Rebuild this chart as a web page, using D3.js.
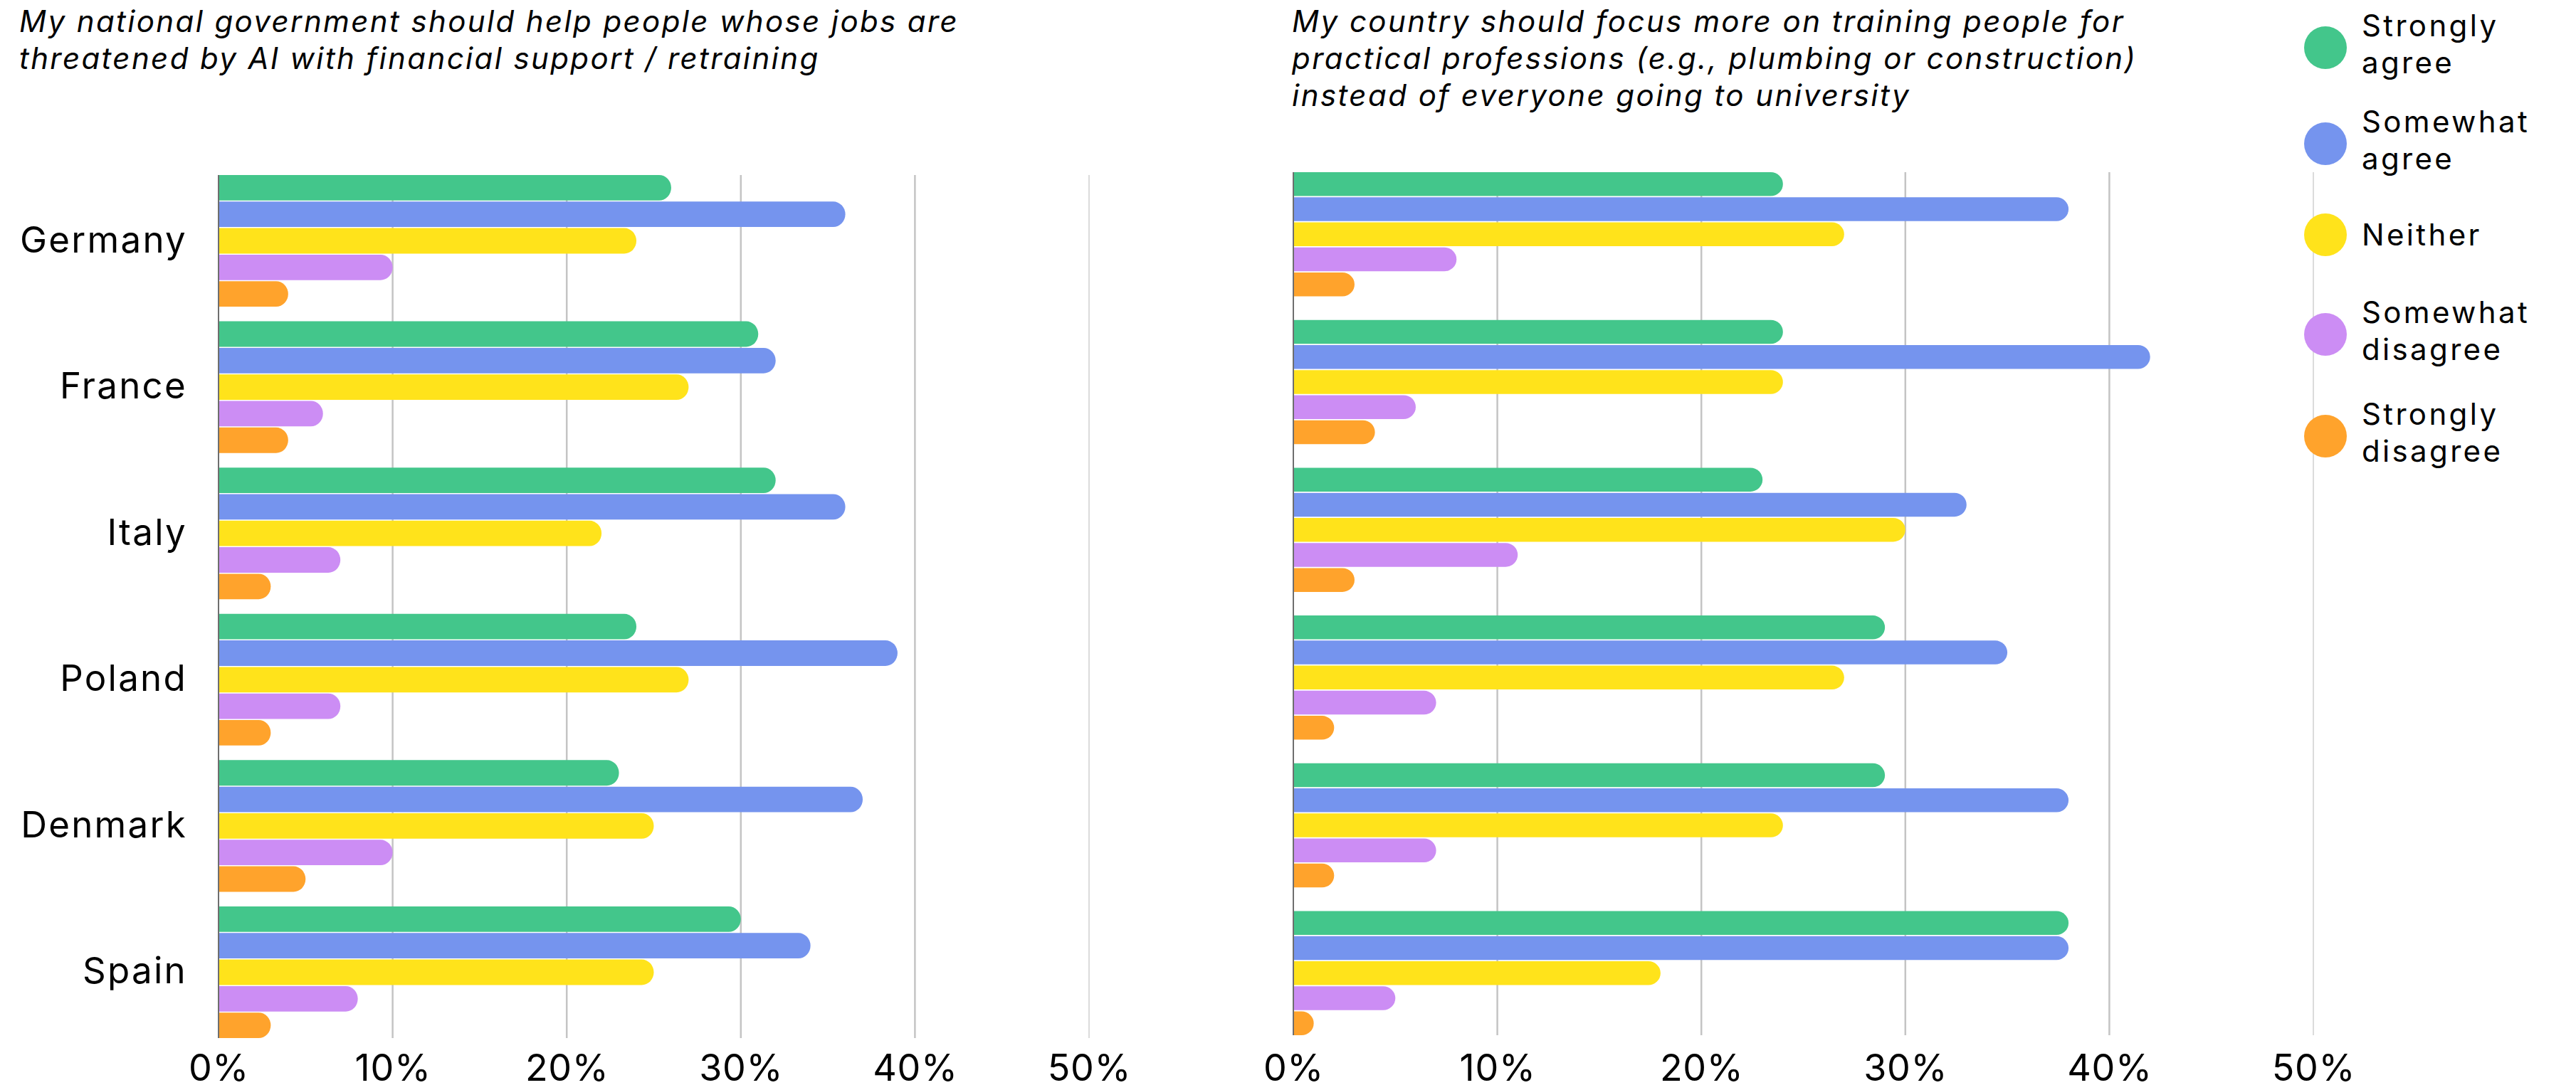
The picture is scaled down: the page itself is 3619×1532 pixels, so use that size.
<!DOCTYPE html>
<html>
<head>
<meta charset="utf-8">
<script src="https://cdn.jsdelivr.net/npm/d3@7/dist/d3.min.js"></script>
<style>
  html, body { margin: 0; padding: 0; background: #ffffff; }
  svg { display: block; }
  text { font-family: Inter, "Noto Sans", sans-serif; fill: #000; }
</style>
</head>
<body>
<svg id="chart" width="3619" height="1532"></svg>
<script>
// ---------------- DATA ----------------
const countries = ["Germany", "France", "Italy", "Poland", "Denmark", "Spain"];
const responses = ["Strongly agree", "Somewhat agree", "Neither", "Somewhat disagree", "Strongly disagree"];
const responseLines = [["Strongly", "agree"], ["Somewhat", "agree"], ["Neither"], ["Somewhat", "disagree"], ["Strongly", "disagree"]];
const colors = ["#43C68B", "#7594EE", "#FFE31B", "#CC8DF4", "#FFA32C"];
const tickValues = [0, 10, 20, 30, 40, 50];
const tickLabels = ["0%", "10%", "20%", "30%", "40%", "50%"];

const titleLeft = ["My national government should help people whose jobs are", "threatened by AI with financial support / retraining"];
const titleRight = ["My country should focus more on training people for", "practical professions (e.g., plumbing or construction)", "instead of everyone going to university"];

// Chart 1: government support (% per country, in countries order)
const govStronglyAgree    = [26, 31, 32, 24, 23, 30];
const govSomewhatAgree    = [36, 32, 36, 39, 37, 34];
const govNeither          = [24, 27, 22, 27, 25, 25];
const govSomewhatDisagree = [10, 6, 7, 7, 10, 8];
const govStronglyDisagree = [4, 4, 3, 3, 5, 3];

// Chart 2: practical professions training
const pracStronglyAgree    = [24, 24, 23, 29, 29, 38];
const pracSomewhatAgree    = [38, 42, 33, 35, 38, 38];
const pracNeither          = [27, 24, 30, 27, 24, 18];
const pracSomewhatDisagree = [8, 6, 11, 7, 7, 5];
const pracStronglyDisagree = [3, 4, 3, 2, 2, 1];

const govSeries  = [govStronglyAgree, govSomewhatAgree, govNeither, govSomewhatDisagree, govStronglyDisagree];
const pracSeries = [pracStronglyAgree, pracSomewhatAgree, pracNeither, pracSomewhatDisagree, pracStronglyDisagree];

// ---------------- DRAW ----------------
const svg = d3.select("#chart");

// letter-spacing so that a sample string reaches the reference's rendered width
function fitSpacing(sample, targetWidth, fontSize, italic) {
  const t = svg.append("text").style("font-size", fontSize + "px")
    .style("font-style", italic ? "italic" : "normal").text(sample);
  const w = t.node().getComputedTextLength();
  t.remove();
  return ((targetWidth - w) / sample.length) + "px";
}
const titleLeftLS  = fitSpacing(titleLeft[0], 1320, 42, true);
const titleRightLS = fitSpacing(titleRight[0], 1170, 42, true);
const labelLS  = fitSpacing("Germany", 235, 51, false);
const legendLS = fitSpacing("Somewhat", 236, 42, false);
const axisLS   = fitSpacing("10%", 107, 52, false);

function barPath(x0, x1, y, h) {
  const w = x1 - x0;
  const rx = Math.min(17, w);
  const ry = h / 2;
  return `M${x0},${y}H${x1 - rx}A${rx},${ry} 0 0 1 ${x1},${y + ry}A${rx},${ry} 0 0 1 ${x1 - rx},${y + h}H${x0}Z`;
}

function drawPanel(cfg) {
  const g = svg.append("g");
  const x = d3.scaleLinear().domain([0, 50]).range([cfg.x0, cfg.x1]);
  const yOuter = d3.scaleBand().domain(countries).range([cfg.top, cfg.bottom]).paddingInner(cfg.groupPad);
  const yInner = d3.scaleBand().domain(responses).range([0, yOuter.bandwidth()]).paddingInner(cfg.barPad);

  // gridlines
  g.append("g").selectAll("line")
    .data(tickValues.filter(v => v > 0))
    .join("line")
    .attr("x1", d => x(d)).attr("x2", d => x(d))
    .attr("y1", cfg.top).attr("y2", cfg.bottom)
    .attr("stroke", "#c4c4c4")
    .attr("stroke-width", d => d === 50 ? 1.2 : 2.5);

  // bars
  const groups = g.append("g").selectAll("g")
    .data(countries)
    .join("g")
    .attr("transform", c => `translate(0,${yOuter(c)})`);

  groups.each(function (c, ci) {
    d3.select(this).selectAll("path")
      .data(responses.map((r, ri) => ({ r, ri, v: cfg.series[ri][ci] })))
      .join("path")
      .attr("d", d => barPath(x(0), x(d.v), yInner(d.r), yInner.bandwidth()))
      .attr("fill", d => colors[d.ri]);
  });

  // axis line
  g.append("line")
    .attr("x1", x(0)).attr("x2", x(0))
    .attr("y1", cfg.top).attr("y2", cfg.bottom)
    .attr("stroke", "#6e6e6e").attr("stroke-width", 2);

  // tick labels via d3 axis
  const axis = d3.axisBottom(x).tickValues(tickValues).tickFormat((d, i) => tickLabels[i]).tickSize(0).tickPadding(0);
  const ax = g.append("g").attr("transform", `translate(0,${cfg.axisY})`).call(axis);
  ax.select(".domain").remove();
  ax.selectAll("text")
    .attr("y", 0).attr("dy", 0)
    .style("font-family", "Inter, 'Noto Sans', sans-serif")
    .style("font-size", "52px")
    .style("letter-spacing", axisLS)
    .attr("fill", "#000");

  // country labels
  if (cfg.labels) {
    g.append("g").selectAll("text")
      .data(countries)
      .join("text")
      .attr("x", cfg.labelX)
      .attr("y", c => yOuter(c) + yOuter.bandwidth() / 2 + 16)
      .attr("text-anchor", "end")
      .style("font-size", "51px")
      .style("letter-spacing", labelLS)
      .text(c => c);
  }

  // title
  g.append("text")
    .attr("x", cfg.titleX).attr("y", 45)
    .style("font-size", "42px").style("font-style", "italic")
    .style("letter-spacing", cfg.titleLS)
    .selectAll("tspan")
    .data(cfg.title)
    .join("tspan")
    .attr("x", cfg.titleX)
    .attr("dy", (d, i) => i === 0 ? 0 : 52)
    .text(d => d);
}

drawPanel({ x0: 307, x1: 1530, top: 246, bottom: 1459, groupPad: 0.10, barPad: 0.04,
            series: govSeries, labels: true, labelX: 263, axisY: 1519, titleX: 27, title: titleLeft, titleLS: titleLeftLS });
drawPanel({ x0: 1817, x1: 3250, top: 242, bottom: 1455, groupPad: 0.16, barPad: 0.05,
            series: pracSeries, labels: false, axisY: 1519, titleX: 1815, title: titleRight, titleLS: titleRightLS });

// legend
const legendCY = [67, 202, 330, 470, 613];
const legend = svg.append("g").selectAll("g")
  .data(responses)
  .join("g")
  .attr("transform", (d, i) => `translate(3267,${legendCY[i]})`);
legend.append("circle").attr("r", 30).attr("fill", (d, i) => colors[i]);
legend.append("text")
  .attr("x", 51)
  .style("font-size", "42px")
  .style("letter-spacing", legendLS)
  .each(function (d, i) {
    const lines = responseLines[i];
    d3.select(this).selectAll("tspan")
      .data(lines)
      .join("tspan")
      .attr("x", 51)
      .attr("y", (l, k) => lines.length === 1 ? 15 : (k === 0 ? -16 : 36))
      .text(l => l);
  });
</script>
</body>
</html>
